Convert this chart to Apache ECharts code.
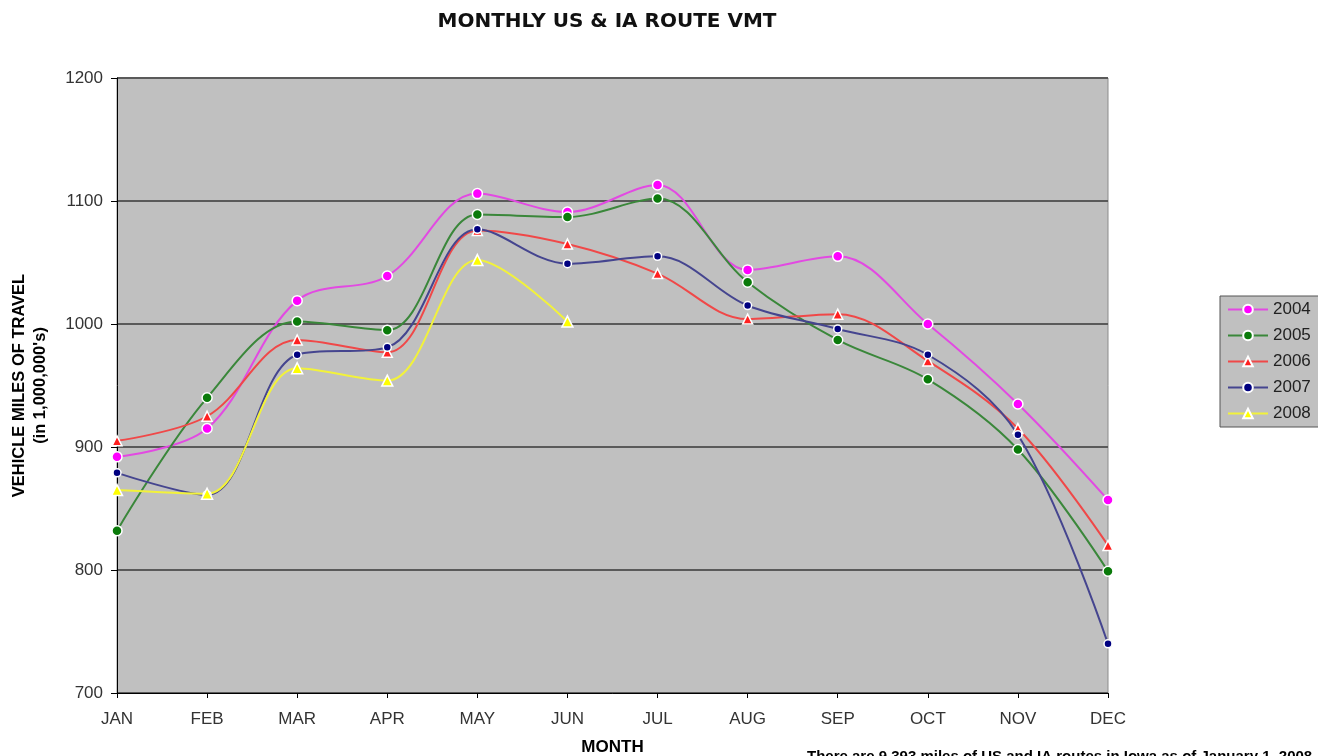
<!DOCTYPE html>
<html>
<head>
<meta charset="utf-8">
<script src="https://cdn.jsdelivr.net/npm/echarts@6/dist/echarts.min.js"></script>
<style>
  html, body { margin: 0; padding: 0; background: #fff; }
  #main { width: 1318px; height: 756px; }
</style>
</head>
<body>
<div id="main"></div>
<script>
// data
var months = ['JAN','FEB','MAR','APR','MAY','JUN','JUL','AUG','SEP','OCT','NOV','DEC'];
var v2004 = [892, 915, 1019, 1039, 1106, 1091, 1113, 1044, 1055, 1000, 935, 857];
var v2005 = [832, 940, 1002, 995, 1089, 1087, 1102, 1034, 987, 955, 898, 799];
var v2006 = [905, 925, 987, 977, 1076, 1065, 1041, 1004, 1008, 970, 915, 820];
var v2007 = [879, 861, 975, 981, 1077, 1049, 1055, 1015, 996, 975, 910, 740];
var v2008 = [865, 862, 964, 954, 1052, 1002];
var yTicks = [700, 1200, 100]; // min, max, step

var font = 'Liberation Sans, Arial, sans-serif';

function mkSeries(name, data, lineColor, markColor, symbol, size) {
  return {
    name: name,
    type: 'line',
    data: data,
    smooth: 0.35,
    symbol: symbol,
    symbolSize: size,
    lineStyle: { color: lineColor, width: 2 },
    itemStyle: { color: markColor, borderColor: '#ffffff', borderWidth: 1.5 },
    emphasis: { disabled: true },
    z: 3
  };
}

var chart = echarts.init(document.getElementById('main'));

var option = {
  backgroundColor: '#ffffff',
  animation: false,
  title: {
    text: 'MONTHLY US & IA ROUTE VMT',
    left: 602,
    textAlign: 'center',
    top: 7,
    textStyle: { fontFamily: 'DejaVu Sans', fontSize: 20, fontWeight: 'bold', color: '#111' }
  },
  grid: {
    left: 117,
    right: 210,
    top: 78,
    bottom: 63,
    containLabel: false,
    outerBoundsMode: 'none',
    show: true,
    backgroundColor: '#c0c0c0',
    borderColor: '#8c8c8c',
    borderWidth: 1
  },
  legend: {
    orient: 'vertical',
    left: 1220,
    top: 296,
    padding: [5, 30, 5, 7],
    itemGap: 9,
    itemWidth: 40,
    itemHeight: 12,
    backgroundColor: '#c0c0c0',
    borderColor: '#555',
    borderWidth: 1,
    textStyle: { fontFamily: font, fontSize: 17, color: '#222' },
    data: ['2004', '2005', '2006', '2007', '2008']
  },
  xAxis: {
    type: 'category',
    data: months,
    boundaryGap: false,
    name: 'MONTH',
    nameLocation: 'middle',
    nameGap: 46,
    nameTextStyle: { fontFamily: font, fontSize: 17, fontWeight: 'bold', color: '#000' },
    axisLine: { lineStyle: { color: '#000', width: 1 } },
    axisTick: { show: true, alignWithLabel: true, length: 5, lineStyle: { color: '#000' } },
    axisLabel: { fontFamily: font, fontSize: 17, color: '#333', margin: 18 },
    splitLine: { show: false }
  },
  yAxis: {
    type: 'value',
    min: yTicks[0],
    max: yTicks[1],
    interval: yTicks[2],
    name: "VEHICLE MILES OF TRAVEL\n(in 1,000,000's)",
    nameLocation: 'middle',
    nameGap: 66,
    nameRotate: 90,
    nameTextStyle: { fontFamily: font, fontSize: 16.5, fontWeight: 'bold', color: '#000', lineHeight: 21 },
    axisLine: { show: true, lineStyle: { color: '#000', width: 1 } },
    axisTick: { show: true, length: 6, lineStyle: { color: '#000' } },
    axisLabel: { fontFamily: font, fontSize: 17, color: '#333', margin: 14, formatter: function (v) { return String(v); } },
    splitLine: { show: true, lineStyle: { color: '#5a5a5a', width: 2 } }
  },
  graphic: [{
    type: 'text',
    left: 807,
    top: 749,
    style: {
      text: 'There are 9,393 miles of US and IA routes in Iowa as of January 1, 2008',
      font: 'bold 15px Liberation Sans, Arial, sans-serif',
      fill: '#000'
    }
  }],
  series: [
    mkSeries('2004', v2004, '#e24ae2', '#ff00ff', 'circle', 10),
    mkSeries('2005', v2005, '#3a873a', '#0a7a0a', 'circle', 10),
    mkSeries('2006', v2006, '#f04848', '#ff2020', 'triangle', 10),
    mkSeries('2007', v2007, '#45458f', '#000080', 'circle', 8),
    mkSeries('2008', v2008, '#f2f23a', '#ffff00', 'triangle', 11)
  ]
};

chart.setOption(option);
</script>
</body>
</html>
